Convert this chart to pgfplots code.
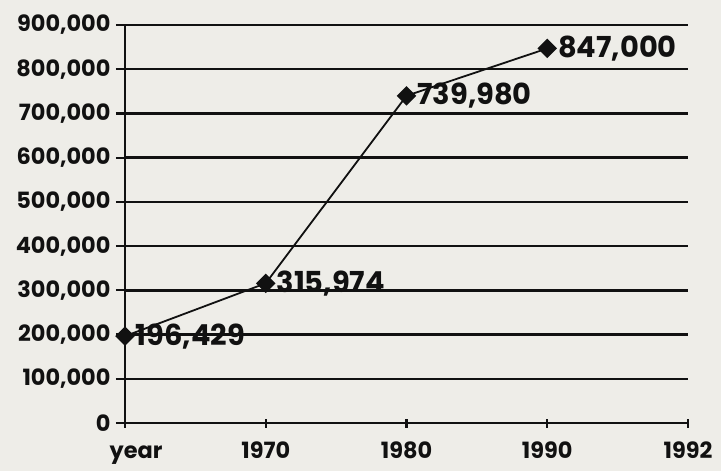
\documentclass[border=0pt]{standalone}
\usepackage{fontspec}
\setmainfont{Poppins}
\usepackage{pgfplots}
\usepackage{pgfplotstable}
\pgfplotsset{compat=1.18}
\definecolor{paper}{HTML}{EEEDE8}
\definecolor{ink}{HTML}{111111}
\pgfplotstableread{
x y label
0 196429 196,429
1 315974 315,974
2 739980 739,980
3 847000 847,000
}\pop
\begin{document}
\begin{tikzpicture}
\fill[paper] (-125bp,-48bp) rectangle (596bp,423bp);
\begin{axis}[
 at={(0,0)}, anchor=south west,
 scale only axis, width=563bp, height=398bp,
 xmin=0, xmax=4, ymin=0, ymax=900000,
 clip=false,
 axis x line=bottom, axis y line=left,
 axis line style={-, ink, line width=2.6bp},
 xtick={0,1,2,3,4}, xticklabels={\hspace*{22bp}year,1970,1980,1990,1992},
 ytick={0,100000,200000,300000,400000,500000,600000,700000,800000,900000},
 ymajorgrids, grid style={ink, line width=2.4bp},
 major tick length=9bp,
 xtick align=center, ytick align=outside,
 tick style={ink, line width=2.2bp},
 scaled y ticks=false,
 ticklabel style={font=\fontsize{22.5}{22.5}\selectfont\bfseries, text=ink},
 yticklabel style={xshift=-2bp, /pgf/number format/.cd, fixed, 1000 sep={,}, assume math mode=true},
 xticklabel style={anchor=north, text height=16bp, text depth=5bp, yshift=-11bp},
]
\addplot[ink, line width=1.8bp, mark=square*, mark size=6bp,
  mark options={rotate=45, solid, fill=ink},
  nodes near coords, point meta=explicit symbolic,
  every node near coord/.style={anchor=west, xshift=10bp, yshift=0bp, inner sep=0pt,
     font=\fontsize{29}{29}\selectfont\bfseries, text=ink}]
 table[x=x, y=y, meta=label] {\pop};
\end{axis}
\path[use as bounding box] (-125bp,-48bp) rectangle (596bp,423bp);
\end{tikzpicture}
\end{document}
